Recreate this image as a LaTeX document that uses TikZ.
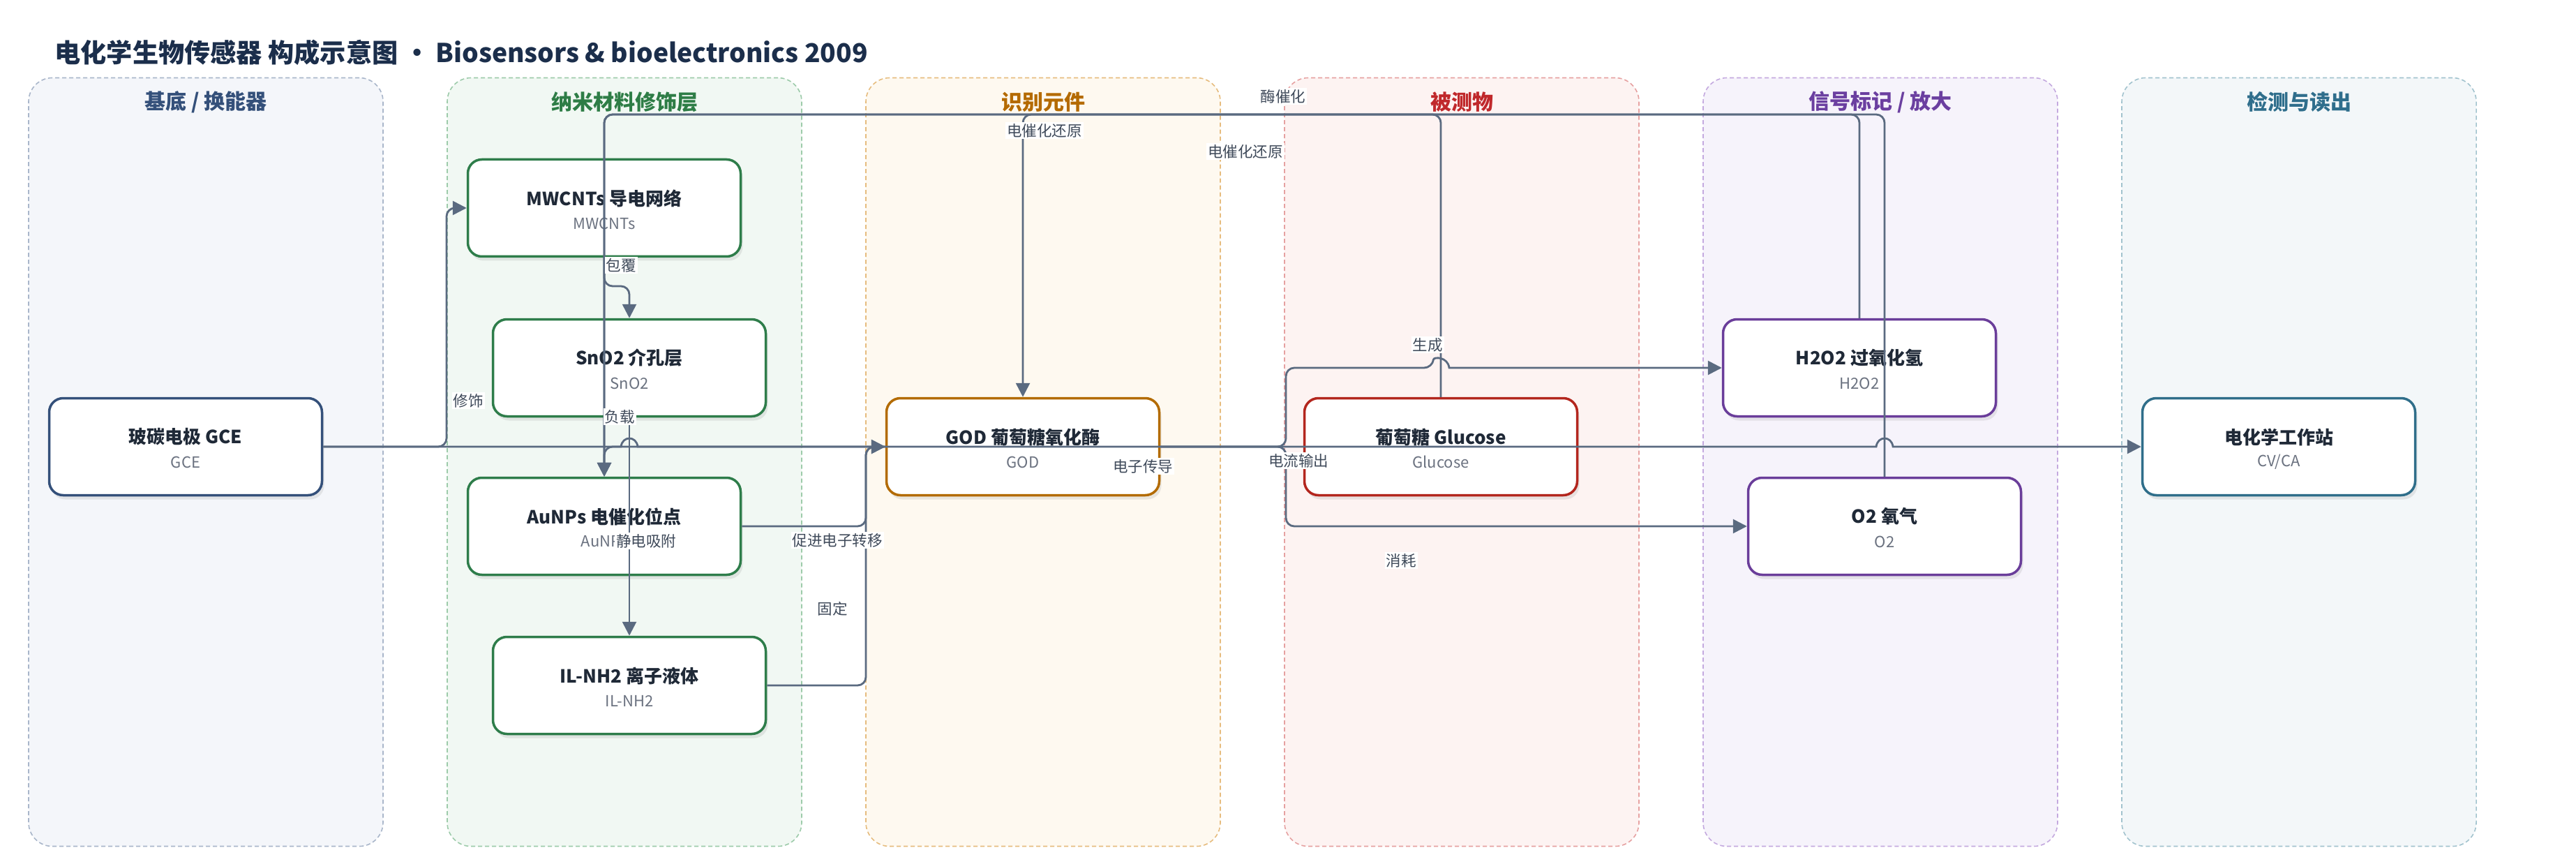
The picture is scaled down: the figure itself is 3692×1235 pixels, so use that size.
\documentclass[tikz,border=0pt]{standalone}
\usepackage{fontspec}
\setmainfont{Noto Sans CJK SC}
\usetikzlibrary{arrows.meta,shadows}
\definecolor{edgec}{HTML}{5A6A80}
\definecolor{titlec}{HTML}{1B2E4B}
\definecolor{ntc}{HTML}{1F2937}
\definecolor{nsc}{HTML}{6B7280}
\definecolor{labc}{HTML}{3F4A5A}
\definecolor{laneAf}{HTML}{F4F6FA}\definecolor{laneAd}{HTML}{A9B6CA}\definecolor{laneAt}{HTML}{34507A}
\definecolor{laneBf}{HTML}{F1F8F3}\definecolor{laneBd}{HTML}{9DCBAA}\definecolor{laneBt}{HTML}{2E7D46}
\definecolor{laneCf}{HTML}{FEF9F0}\definecolor{laneCd}{HTML}{E6BC7E}\definecolor{laneCt}{HTML}{B46A00}
\definecolor{laneDf}{HTML}{FDF3F2}\definecolor{laneDd}{HTML}{E6A1A1}\definecolor{laneDt}{HTML}{C0282B}
\definecolor{laneEf}{HTML}{F6F3FB}\definecolor{laneEd}{HTML}{C4A9DF}\definecolor{laneEt}{HTML}{6B3FA0}
\definecolor{laneFf}{HTML}{F3F7F9}\definecolor{laneFd}{HTML}{A2C3CE}\definecolor{laneFt}{HTML}{2F6E8C}
\definecolor{nA}{HTML}{34507A}
\definecolor{nB}{HTML}{2E7D4A}
\definecolor{nC}{HTML}{B36B00}
\definecolor{nD}{HTML}{B3261E}
\definecolor{nE}{HTML}{6A3D9A}
\definecolor{nF}{HTML}{2F6E8A}
\newcommand\bnode[6]{%
  \node[box, draw=#4] (#1) at (#2,#3) {};
  \node[ntitle] (#1-t) at ([yshift=7pt]#1.center) {#5};
  \node[nsub] (#1-s) at ([yshift=-11pt]#1.center) {#6};
}
\begin{document}
\begin{tikzpicture}[x=0.5pt,y=-0.5pt,
  lane/.style={dashed, dash pattern=on 3pt off 2pt, line width=0.8pt, rounded corners=17pt, minimum width=254pt, minimum height=550.5pt, inner sep=0pt},
  lanetitle/.style={font=\bfseries\fontsize{15}{18}\selectfont},
  box/.style={fill=white, rounded corners=10pt, line width=1.75pt, minimum width=195.5pt, minimum height=69.5pt, inner sep=0pt,
    drop shadow={shadow xshift=1.5pt, shadow yshift=-3pt, opacity=0.16}},
  ntitle/.style={text=ntc, font=\bfseries\fontsize{13}{15}\selectfont, inner sep=0pt},
  nsub/.style={text=nsc, font=\fontsize{11}{13}\selectfont, inner sep=0pt},
  conn/.style={draw=edgec, line width=1.4pt, rounded corners=6pt},
  arr/.style={-{Triangle[width=10pt,length=10pt]}},
  elabel/.style={fill=white, inner sep=1pt, text=labc, font=\fontsize{10.75}{12}\selectfont},
]
\fill[white] (0,0) rectangle (3692,1235);
\useasboundingbox (0,0) rectangle (3692,1235);

% title
\node[anchor=west, text=titlec, font=\bfseries\fontsize{18.6}{22}\selectfont, inner sep=0pt] (title) at (78,75)
  {电化学生物传感器 构成示意图 · Biosensors \& bioelectronics 2009};

% lanes
\node[lane, fill=laneAf, draw=laneAd] (L1) at (295,662) {};
\node[lane, fill=laneBf, draw=laneBd] (L2) at (895,662) {};
\node[lane, fill=laneCf, draw=laneCd] (L3) at (1495,662) {};
\node[lane, fill=laneDf, draw=laneDd] (L4) at (2095,662) {};
\node[lane, fill=laneEf, draw=laneEd] (L5) at (2695,662) {};
\node[lane, fill=laneFf, draw=laneFd] (L6) at (3295,662) {};
\node[lanetitle, text=laneAt] (L1-t) at (295,146) {基底 / 换能器};
\node[lanetitle, text=laneBt] (L2-t) at (895,146) {纳米材料修饰层};
\node[lanetitle, text=laneCt] (L3-t) at (1495,146) {识别元件};
\node[lanetitle, text=laneDt] (L4-t) at (2095,146) {被测物};
\node[lanetitle, text=laneEt] (L5-t) at (2695,146) {信号标记 / 放大};
\node[lanetitle, text=laneFt] (L6-t) at (3295,146) {检测与读出};

% nodes
\bnode{gce}{266}{640}{nA}{玻碳电极 GCE}{GCE}
\bnode{mw}{866}{298}{nB}{MWCNTs 导电网络}{MWCNTs}
\bnode{sno}{902}{527}{nB}{SnO2 介孔层}{SnO2}
\bnode{au}{866}{754}{nB}{AuNPs 电催化位点}{AuNPs}
\bnode{il}{902}{982}{nB}{IL-NH2 离子液体}{IL-NH2}
\bnode{god}{1466}{640}{nC}{GOD 葡萄糖氧化酶}{GOD}
\bnode{glu}{2065}{640}{nD}{葡萄糖 Glucose}{Glucose}
\bnode{hh}{2665}{527}{nE}{H2O2 过氧化氢}{H2O2}
\bnode{oo}{2701}{754}{nE}{O2 氧气}{O2}
\bnode{ws}{3266}{640}{nF}{电化学工作站}{CV/CA}

% connectors
\draw[conn, arr] (gce.east) -- (640,640) -- (640,298) -- (mw.west);
\draw[conn, arr] (mw.south) -- (866,410) -- (902,410) -- (sno.north);
\draw[conn, arr] (sno.south) -- (il.north);
\draw[conn, arr] (hh.north) -- (2665,164) -- (866,164) -- (au.north);
\draw[conn, arr] (oo.north) -- (2701,164) -- (866,164) -- (au.north);
\draw[conn, arr] (glu.north) -- (2065,164) -- (1466,164) -- (god.north);
\draw[conn, arr] (au.east) -- (1241,754) -- (1241,640) -- (god.west);
\draw[conn, arr] (il.east) -- (1241,982) -- (1241,640) -- (god.west);
\draw[conn, arr] (god.west) -- (866,640) -- (au.north);
\draw[conn, arr] (god.east) -- (1843,640) -- (1843,527) -- (2053,527) [sharp corners]
   .. controls (2055,511) and (2075,511) .. (2077,527) -- (hh.west);
\draw[conn, arr] (god.east) -- (1843,640) -- (1843,754) -- (oo.west);
\draw[conn, arr, sharp corners] (gce.east) -- (890,640) .. controls (892,624) and (912,624) .. (914,640)
   -- (2689,640) .. controls (2691,624) and (2711,624) .. (2713,640) -- (ws.west);

% connector labels
\node[elabel] (l1) at (671,574) {修饰};
\node[elabel] (l2) at (890,380) {包覆};
\node[elabel] (l3) at (888,597) {负载};
\node[elabel] (l4) at (926,775) {静电吸附};
\node[elabel] (l5) at (1200,774) {促进电子转移};
\node[elabel] (l6) at (1193,872) {固定};
\node[elabel] (l7) at (1638,668) {电子传导};
\node[elabel] (l8) at (1861,660) {电流输出};
\node[elabel] (l9) at (1839,138) {酶催化};
\node[elabel] (l10) at (1497,187) {电催化还原};
\node[elabel] (l11) at (1785,217) {电催化还原};
\node[elabel] (l12) at (2046,494) {生成};
\node[elabel] (l13) at (2008,803) {消耗};
\end{tikzpicture}
\end{document}
